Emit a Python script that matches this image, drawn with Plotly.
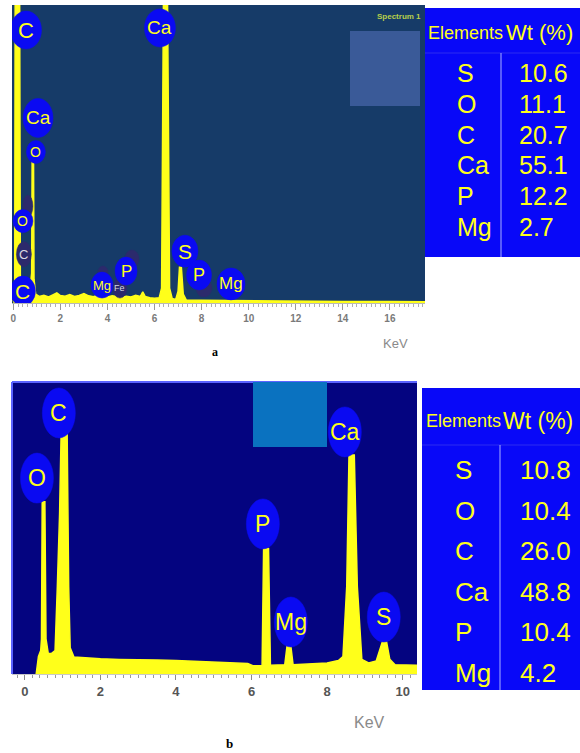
import plotly.graph_objects as go

W, H = 580, 753

# ---------------- data ----------------
energy_a = [0.00, 0.06, 0.08, 0.27, 0.30, 0.40, 0.55, 0.70, 0.78, 0.80, 0.86, 0.88, 0.95,
            1.10, 1.30, 1.50, 1.70, 1.85, 2.00, 2.20, 2.40, 2.60, 2.80, 3.00, 3.20, 3.40,
            3.60, 3.80, 4.00, 4.20, 4.40, 4.60, 4.80, 5.00, 5.20, 5.40, 5.50, 5.60, 5.80,
            6.00, 6.20, 6.30, 6.38, 6.55, 6.64, 6.75, 6.90, 7.00, 7.06, 7.14, 7.22, 7.35,
            8.00, 9.00, 10.0, 12.0, 14.0, 16.0, 17.5]
counts_a = [0.5, 3, 104, 104, 6, 5, 4, 4, 10, 48, 48, 8, 3,
            2.2, 2.6, 2.0, 2.8, 3.4, 2.5, 2.3, 2.8, 2.2, 2.5, 3.2, 2.4, 2.1,
            2.6, 2.3, 2.0, 2.4, 2.2, 1.9, 2.3, 2.0, 2.6, 2.2, 3.7, 2.2, 1.8,
            1.6, 1.8, 5, 104, 104, 5, 1.5, 1.2, 4, 12, 12, 3, 1.0,
            0.9, 0.8, 0.7, 0.6, 0.5, 0.5, 0.4]

energy_b = [0.30, 0.36, 0.42, 0.44, 0.46, 0.53, 0.56, 0.62, 0.70, 0.80, 0.86, 0.92, 0.96,
            1.12, 1.16, 1.20, 1.30, 1.60, 2.00, 2.50, 3.00, 3.50, 4.00, 4.50, 5.00, 5.50,
            5.90, 6.05, 6.28, 6.32, 6.45, 6.50, 6.70, 6.88, 6.94, 7.04, 7.10, 7.50, 8.00,
            8.30, 8.42, 8.52, 8.58, 8.72, 8.80, 8.92, 9.10, 9.30, 9.40, 9.47, 9.57, 9.66,
            9.80, 10.38]
counts_b = [0, 6, 8, 12, 59, 59, 12, 7, 7, 8, 30, 55, 82,
            82, 30, 9, 5.8, 5.5, 5.2, 5.0, 5.0, 4.8, 4.6, 4.3, 4.0, 3.8,
            3.6, 2.8, 2.8, 43, 43, 3, 3, 3.2, 9.6, 9.6, 3.2, 3.4, 3.8,
            4.6, 6, 30, 75, 75, 30, 5, 3.8, 4.5, 9, 11.3, 11.3, 5,
            3.2, 3]

elements = ["S", "O", "C", "Ca", "P", "Mg"]
wt_a = ["10.6", "11.1", "20.7", "55.1", "12.2", "2.7"]
wt_b = ["10.8", "10.4", "26.0", "48.8", "10.4", "4.2"]

ticks_a = [0, 2, 4, 6, 8, 10, 12, 14, 16]
ticks_b = [0, 2, 4, 6, 8, 10]

# peak labels: text, energy (keV), counts
lab_a_text = ["C", "Ca", "Ca", "O", "O", "C", "C", "Mg", "Fe", "P", "S", "P", "Mg"]
lab_a_energy = [0.54, 6.23, 1.05, 0.96, 0.41, 0.45, 0.41, 3.77, 4.53, 4.79, 7.29, 7.89, 9.25]
lab_a_count = [91.6, 92.3, 62.1, 50.7, 27.5, 16.4, 4.0, 6.0, 5.0, 10.7, 17.4, 9.4, 6.4]
# hidden (dark) markers behind labels in panel a
dark_a_energy = [0.62, 3.81, 5.04, 8.10]
dark_a_count = [32.5, 10.4, 14.8, 5.0]

lab_b_text = ["O", "C", "P", "Mg", "Ca", "S"]
lab_b_energy = [0.32, 0.90, 6.30, 7.04, 8.47, 9.50]
lab_b_count = [67.1, 89.4, 51.4, 17.8, 82.9, 19.5]

# ---------------- styles ----------------
YEL = "#ffff1a"
LBL_BLUE = "#0a0af2"
SANS = "Liberation Sans, Arial, sans-serif"
# bubble sizes (w, h, font) for panel a labels
sty_a = [(31, 38, 22), (31, 38, 19), (30, 39, 19), (19, 23, 14), (20, 23, 14), (15, 25, 13),
         (25, 30, 21), (22, 26, 13), (14, 20, 9), (22, 28, 17), (26, 32, 21), (25, 30, 18),
         (28, 32, 17)]
dark_kind = [False, False, False, False, False, True, False, False, True, False, False, False, False]
dark_sty = [(10, 22), (10, 12), (14, 18), (16, 18)]


def px(x):
    return x / W


def py(y):
    return 1 - y / H


fig = go.Figure()
fig.add_trace(go.Scatter(x=energy_a, y=counts_a, mode="lines", fill="tozeroy",
                         line=dict(color=YEL, width=1.5), fillcolor=YEL,
                         xaxis="x", yaxis="y", hoverinfo="skip", showlegend=False))
fig.add_trace(go.Scatter(x=energy_b, y=counts_b, mode="lines", fill="tozeroy",
                         line=dict(color=YEL, width=1.5), fillcolor=YEL,
                         xaxis="x2", yaxis="y2", hoverinfo="skip", showlegend=False))

shapes = []
annotations = []


def note(x, y, text, size, color, family=SANS, xanchor="center", ref="paper"):
    annotations.append(dict(x=x, y=y, xref=ref if ref == "paper" else ref[0],
                            yref=ref if ref == "paper" else ref[1], text=text,
                            xanchor=xanchor, yanchor="middle", showarrow=False,
                            font=dict(family=family, size=size, color=color)))


# plot backgrounds
shapes.append(dict(type="rect", xref="x domain", yref="y domain", x0=0, x1=1, y0=0, y1=1,
                   fillcolor="#163b68", line_width=0, layer="below"))
shapes.append(dict(type="rect", xref="x2 domain", yref="y2 domain", x0=0, x1=1, y0=0, y1=1,
                   fillcolor="#040480", line_width=0, layer="below"))
# light border (top and left) of panel b
shapes.append(dict(type="line", xref="x2 domain", yref="y2 domain", x0=0, x1=1, y0=1, y1=1,
                   line=dict(color="#5b63ff", width=2), layer="below"))
shapes.append(dict(type="line", xref="x2 domain", yref="y2 domain", x0=0, x1=0, y0=0, y1=1,
                   line=dict(color="#5b63ff", width=2), layer="below"))
# light squares
shapes.append(dict(type="rect", xref="paper", yref="paper", x0=px(350), x1=px(420),
                   y0=py(106), y1=py(31), fillcolor="#3a5a98", line_width=0, layer="below"))
shapes.append(dict(type="rect", xref="paper", yref="paper", x0=px(253), x1=px(327),
                   y0=py(447), y1=py(382), fillcolor="#0a72c0", line_width=0, layer="below"))


def bubble(xr, yr, e, c, w, h, color):
    return dict(type="circle", xref=xr, yref=yr, xsizemode="pixel", ysizemode="pixel",
                xanchor=e, yanchor=c, x0=-w / 2, x1=w / 2, y0=-h / 2, y1=h / 2,
                fillcolor=color, line=dict(color=color, width=0.5), layer="above")


for e, c, (w, h) in zip(dark_a_energy, dark_a_count, dark_sty):
    shapes.append(bubble("x", "y", e, c, w, h, "#2c2a6c"))
for t, e, c, (w, h, fs), dk in zip(lab_a_text, lab_a_energy, lab_a_count, sty_a, dark_kind):
    shapes.append(bubble("x", "y", e, c, w, h, "#2c2a6c" if dk else LBL_BLUE))
    note(e, c, t, fs, "#d8d8e0" if dk else YEL, ref=("x", "y"))

for t, e, c in zip(lab_b_text, lab_b_energy, lab_b_count):
    shapes.append(bubble("x2", "y2", e, c, 33, 50, LBL_BLUE))
    note(e, c, t, 23, YEL, ref=("x2", "y2"))

note(px(399), py(17), "<b>Spectrum 1</b>", 8, "#b8d04a")


# tables
def table(x0, y0, y1, ysep, xdiv, hy, hx1, hx2, rows_y, ex, vx, vals, hfs, wfs, rfs):
    shapes.append(dict(type="rect", xref="paper", yref="paper", x0=px(x0), x1=px(W),
                       y0=py(y1), y1=py(y0), fillcolor="#0808f8", line_width=0, layer="below"))
    shapes.append(dict(type="line", xref="paper", yref="paper", x0=px(x0), x1=px(W),
                       y0=py(ysep), y1=py(ysep), line=dict(color="#2c2cf0", width=1)))
    shapes.append(dict(type="line", xref="paper", yref="paper", x0=px(xdiv), x1=px(xdiv),
                       y0=py(ysep), y1=py(y1), line=dict(color="#a8b0ff", width=1)))
    note(px(hx1), py(hy), "Elements", hfs, YEL, xanchor="left")
    note(px(hx2), py(hy), "Wt (%)", wfs, YEL, xanchor="left")
    for el, v, ry in zip(elements, vals, rows_y):
        note(px(ex), py(ry), el, rfs, YEL, xanchor="left")
        note(px(vx), py(ry), v, rfs, YEL, xanchor="left")


table(425, 8, 257, 53, 501, 33, 426, 504, [73 + 30.8 * i for i in range(6)], 455, 517, wt_a, 18, 22, 25)
table(422, 388, 690, 445, 500, 421, 424, 501, [470 + 40.6 * i for i in range(6)], 453, 518, wt_b, 18, 23, 26)

# axis captions
note(px(395), py(343), "KeV", 13, "#8a8a8a")
note(px(369), py(722), "KeV", 16, "#8a8a8a")
note(px(215), py(352), "<b>a</b>", 12, "#000", family="Liberation Serif, serif")
note(px(229), py(743), "<b>b</b>", 13, "#000", family="Liberation Serif, serif")

xcommon = dict(showgrid=False, zeroline=False, ticks="outside", tickwidth=1,
               showline=True, linewidth=1, fixedrange=True)

fig.update_layout(
    width=W, height=H, margin=dict(l=0, r=0, t=0, b=0),
    paper_bgcolor="white", plot_bgcolor="white", showlegend=False,
    xaxis=dict(domain=[px(12), px(425)], range=[-0.055, 17.49], anchor="y",
               tickvals=ticks_a, ticktext=[str(t) for t in ticks_a], ticklen=6,
               tickcolor="#9a9a9a", linecolor="#b8b8b8",
               tickfont=dict(family=SANS, size=10, color="#7a7a7a", weight="bold"),
               minor=dict(dtick=0.2, tick0=0, ticks="outside", ticklen=3, tickcolor="#b0b0b0"),
               **xcommon),
    yaxis=dict(domain=[py(303), py(5)], range=[0, 100], anchor="x", visible=False, fixedrange=True),
    xaxis2=dict(domain=[px(12), px(417)], range=[-0.34, 10.38], anchor="y2",
                tickvals=ticks_b, ticktext=[str(t) for t in ticks_b], ticklen=5,
                tickcolor="#8a8a8a", linecolor="#c8c8c8",
                tickfont=dict(family=SANS, size=13, color="#555555", weight="bold"),
                minor=dict(dtick=0.2, tick0=0, ticks="outside", ticklen=3, tickcolor="#9a9a9a"),
                **xcommon),
    yaxis2=dict(domain=[py(674), py(382)], range=[0, 100], anchor="x2", visible=False, fixedrange=True),
    shapes=shapes, annotations=annotations,
)

fig.write_html("out.html", config={"displayModeBar": False},
               post_script="document.body.style.margin='0px';document.body.style.overflow='hidden';")
